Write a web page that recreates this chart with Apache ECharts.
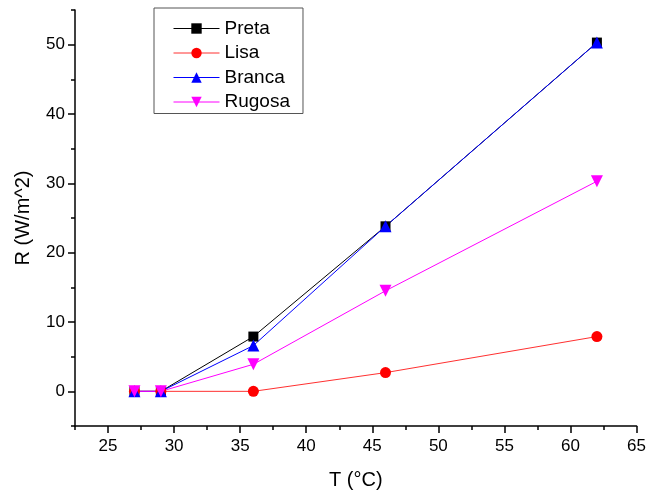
<!DOCTYPE html>
<html>
<head>
<meta charset="utf-8">
<script src="https://cdn.jsdelivr.net/npm/echarts@6/dist/echarts.min.js"></script>
<style>
  html, body { margin: 0; padding: 0; background: #fff; }
  #chart { width: 649px; height: 495px; }
</style>
</head>
<body>
<div id="chart"></div>
<script>
const temps = [27, 29, 36, 46, 62];
const preta = [0, 0, 7.9, 23.8, 50.3];
const lisa = [0, 0, 0, 2.7, 7.9];
const branca = [0, 0, 6.6, 23.8, 50.3];
const rugosa = [0, 0, 3.9, 14.5, 30.3];

const xMajor = [25, 30, 35, 40, 45, 50, 55, 60, 65];
const xMinor = [22.5, 27.5, 32.5, 37.5, 42.5, 47.5, 52.5, 57.5, 62.5];
const yMajor = [0, 10, 20, 30, 40, 50];
const yMinor = [-5, 5, 15, 25, 35, 45, 55];

const font = 'Liberation Sans, Arial, sans-serif';
const pairs = (ys) => temps.map((t, i) => [t, ys[i]]);

const grid = { left: 75, right: 8, top: 10, bottom: 69 };

const axisBase = {
  type: 'value',
  splitLine: { show: false },
  axisLine: { onZero: false, lineStyle: { color: '#000', width: 1.5 } },
};

const option = {
  animation: false,
  backgroundColor: '#fff',
  grid: grid,
  legend: {
    orient: 'vertical',
    left: 154,
    top: 8,
    padding: [11, 13, 2, 19],
    itemWidth: 46,
    itemHeight: 13,
    itemGap: 5.5,
    borderColor: '#555',
    borderWidth: 1,
    lineStyle: { width: 1 },
    textStyle: { fontFamily: font, fontSize: 19, color: '#000' },
    data: ['Preta', 'Lisa', 'Branca', 'Rugosa'],
  },
  xAxis: [
    Object.assign({}, axisBase, {
      min: 22.5, max: 65,
      name: 'T (°C)',
      nameLocation: 'middle',
      nameGap: 44,
      nameTextStyle: { fontFamily: font, fontSize: 20, color: '#000' },
      axisTick: { customValues: xMajor, length: 7, lineStyle: { color: '#000', width: 1.5 } },
      axisLabel: { customValues: xMajor, margin: 12, fontFamily: font, fontSize: 17, color: '#000' },
    }),
    Object.assign({}, axisBase, {
      min: 22.5, max: 65,
      position: 'bottom',
      axisLine: { show: false, onZero: false },
      axisTick: { customValues: xMinor, length: 4, lineStyle: { color: '#000', width: 1.5 } },
      axisLabel: { show: false },
    }),
  ],
  yAxis: [
    Object.assign({}, axisBase, {
      min: -5, max: 55,
      name: 'R (W/m^2)',
      nameLocation: 'middle',
      nameGap: 42,
      nameTextStyle: { fontFamily: font, fontSize: 20, color: '#000' },
      axisTick: { customValues: yMajor, length: 7, lineStyle: { color: '#000', width: 1.5 } },
      axisLabel: { customValues: yMajor, margin: 10, fontFamily: font, fontSize: 17, color: '#000' },
    }),
    Object.assign({}, axisBase, {
      min: -5, max: 55,
      position: 'left',
      axisLine: { show: false, onZero: false },
      axisTick: { customValues: yMinor, length: 4, lineStyle: { color: '#000', width: 1.5 } },
      axisLabel: { show: false },
    }),
  ],
  series: [
    {
      name: 'Preta', type: 'line', data: pairs(preta),
      symbol: 'rect', symbolSize: 10,
      lineStyle: { color: '#000', width: 1 },
      itemStyle: { color: '#000' },
    },
    {
      name: 'Lisa', type: 'line', data: pairs(lisa),
      symbol: 'circle', symbolSize: 11,
      lineStyle: { color: '#ff3030', width: 1 },
      itemStyle: { color: '#ff0000' },
    },
    {
      name: 'Branca', type: 'line', data: pairs(branca),
      symbol: 'triangle', symbolSize: 12,
      lineStyle: { color: '#0000ff', width: 1 },
      itemStyle: { color: '#0000ff' },
    },
    {
      name: 'Rugosa', type: 'line', data: pairs(rugosa),
      symbol: 'triangle', symbolRotate: 180, symbolSize: 12,
      lineStyle: { color: '#ff00ff', width: 1 },
      itemStyle: { color: '#ff00ff' },
    },
  ],
};

const chart = echarts.init(document.getElementById('chart'), null, { renderer: 'canvas' });
chart.setOption(option);
</script>
</body>
</html>
